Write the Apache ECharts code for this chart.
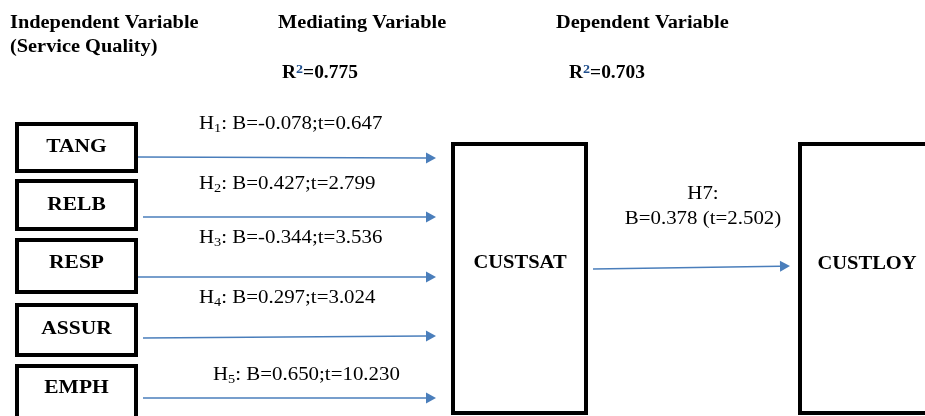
<!DOCTYPE html>
<html>
<head>
<meta charset="utf-8">
<script src="https://cdn.jsdelivr.net/npm/echarts@6/dist/echarts.min.js"></script>
<style>
html,body{margin:0;padding:0;background:#fff;}
#chart{width:925px;height:416px;}
</style>
</head>
<body>
<div id="chart"></div>
<script>
// ---------- DATA ----------
const independentVars = ['TANG', 'RELB', 'RESP', 'ASSUR', 'EMPH'];
const betas = [-0.078, 0.427, -0.344, 0.297, 0.650];
const tValues = [0.647, 2.799, 3.536, 3.024, 10.230];
const mediatorName = 'CUSTSAT';
const dependentName = 'CUSTLOY';
const h7Beta = 0.378;
const h7T = 2.502;
const rSquared = [0.775, 0.703];
const headerTitles = ['Independent Variable', '(Service Quality)', 'Mediating Variable', 'Dependent Variable'];

// ---------- LAYOUT (pixel-space axis units) ----------
const L = {
  leftBoxX: [15, 138],
  leftBoxY: [[122, 173], [179, 231], [238, 294], [303, 357], [364, 420]],
  leftLabelY: [147, 205, 263, 329, 388],
  arrowStartX: [138, 143, 138, 143, 143],
  arrowStartY: [157, 217, 277, 338, 398],
  arrowEndY: [158, 217, 277, 336, 398],
  arrowTipX: 436,
  hypLabel: [[199, 124], [199, 184], [199, 238], [199, 298], [213, 375]],
  midBox: [451, 142, 588, 415],
  depBox: [798, 142, 940, 415],
  midLabel: [520, 263],
  depLabel: [867, 264],
  h7Arrow: [[593, 269], [790, 266]],
  h7Label: [703, 194, 219],
  headers: [[10, 23.5], [10, 47], [278, 23.5], [556, 23.5]],
  r2: [[282, 73], [569, 73]]
};
const SERIF = '"Liberation Serif", "Times New Roman", serif';
const ARROW_COLOR = '#4a7ebb';
const BOX_LW = 4;
const STRETCH = 1.12;

function fmt(v) { return v.toFixed(3); }

function boxShape(api, x0, y0, x1, y1) {
  const p0 = api.coord([x0, y0]);
  const p1 = api.coord([x1, y1]);
  const h = BOX_LW / 2;
  return {
    type: 'rect',
    shape: { x: p0[0] + h, y: p0[1] + h, width: p1[0] - p0[0] - BOX_LW, height: p1[1] - p0[1] - BOX_LW },
    style: { fill: '#fff', stroke: '#000', lineWidth: BOX_LW }
  };
}

function arrowShape(api, s, e) {
  const p0 = api.coord(s);
  const p1 = api.coord(e);
  const dx = p1[0] - p0[0], dy = p1[1] - p0[1];
  const len = Math.sqrt(dx * dx + dy * dy);
  const ux = dx / len, uy = dy / len;
  const hl = 10, hw = 5.5;
  const bx = p1[0] - ux * hl, by = p1[1] - uy * hl;
  return {
    type: 'group',
    children: [
      { type: 'line', shape: { x1: p0[0], y1: p0[1], x2: bx, y2: by },
        style: { stroke: ARROW_COLOR, lineWidth: 1.5 } },
      { type: 'polygon', shape: { points: [[p1[0], p1[1]], [bx - uy * hw, by + ux * hw], [bx + uy * hw, by - ux * hw]] },
        style: { fill: ARROW_COLOR } }
    ]
  };
}

function textEl(api, x, y, text, opts, sx) {
  const p = api.coord([x, y]);
  return {
    type: 'text',
    x: p[0], y: p[1],
    scaleX: sx || STRETCH, scaleY: 1,
    style: Object.assign({
      x: 0, y: 0, text: text,
      fontFamily: SERIF, fontSize: 19, fill: '#000',
      align: 'left', verticalAlign: 'middle'
    }, opts || {})
  };
}

const subRich = {
  n: { fontFamily: SERIF, fontSize: 19, fill: '#000', lineHeight: 24, verticalAlign: 'middle' },
  s: { fontFamily: SERIF, fontSize: 13, fill: '#000', lineHeight: 24, verticalAlign: 'bottom', padding: [0, 0, 1, 0] }
};
const supRich = {
  n: { fontFamily: SERIF, fontSize: 18, fontWeight: 'bold', fill: '#000', lineHeight: 24, verticalAlign: 'middle' },
  p: { fontFamily: SERIF, fontSize: 13, fontWeight: 'bold', fill: '#1f4e8c', lineHeight: 24, verticalAlign: 'top', padding: [2, 0, 0, 0] }
};

const chart = echarts.init(document.getElementById('chart'), null, { renderer: 'canvas' });

const option = {
  animation: false,
  backgroundColor: '#fff',
  grid: { left: 0, right: 0, top: 0, bottom: 0 },
  xAxis: { type: 'value', min: 0, max: 925, show: false },
  yAxis: { type: 'value', min: 0, max: 416, inverse: true, show: false },
  series: [
    // Independent variable boxes
    {
      type: 'custom',
      data: independentVars.map((n, i) => [i]),
      renderItem: function (params, api) {
        const i = api.value(0);
        const yy = L.leftBoxY[i];
        return {
          type: 'group',
          children: [
            boxShape(api, L.leftBoxX[0], yy[0], L.leftBoxX[1], yy[1]),
            textEl(api, (L.leftBoxX[0] + L.leftBoxX[1]) / 2, L.leftLabelY[i], independentVars[i],
              { fontWeight: 'bold', align: 'center' }, 1.13)
          ]
        };
      }
    },
    // Mediator & dependent boxes
    {
      type: 'custom',
      data: [[0], [1]],
      renderItem: function (params, api) {
        const i = api.value(0);
        const b = i === 0 ? L.midBox : L.depBox;
        const lp = i === 0 ? L.midLabel : L.depLabel;
        return {
          type: 'group',
          children: [
            boxShape(api, b[0], b[1], b[2], b[3]),
            textEl(api, lp[0], lp[1], i === 0 ? mediatorName : dependentName, { fontWeight: 'bold', align: 'center' }, 1.08)
          ]
        };
      }
    },
    // Arrows IV -> mediator with hypothesis labels
    {
      type: 'custom',
      data: betas.map((b, i) => [i, b, tValues[i]]),
      renderItem: function (params, api) {
        const i = api.value(0);
        const lp = L.hypLabel[i];
        const txt = '{n|H}{s|' + (i + 1) + '}{n|: B=' + fmt(betas[i]) + ';t=' + fmt(tValues[i]) + '}';
        return {
          type: 'group',
          children: [
            arrowShape(api, [L.arrowStartX[i], L.arrowStartY[i]], [L.arrowTipX, L.arrowEndY[i]]),
            textEl(api, lp[0], lp[1], txt, { rich: subRich }, 1.1)
          ]
        };
      }
    },
    // H7 arrow
    {
      type: 'custom',
      data: [[h7Beta, h7T]],
      renderItem: function (params, api) {
        return {
          type: 'group',
          children: [
            arrowShape(api, L.h7Arrow[0], L.h7Arrow[1]),
            textEl(api, L.h7Label[0], L.h7Label[1], 'H7:', { align: 'center' }, 1.1),
            textEl(api, L.h7Label[0], L.h7Label[2], 'B=' + fmt(h7Beta) + ' (t=' + fmt(h7T) + ')', { align: 'center' }, 1.1)
          ]
        };
      }
    },
    // Headers and R²
    {
      type: 'custom',
      data: headerTitles.map((t, i) => [i]),
      renderItem: function (params, api) {
        const i = api.value(0);
        const hp = L.headers[i];
        return textEl(api, hp[0], hp[1], headerTitles[i], { fontWeight: 'bold', fontSize: 18 }, 1.13);
      }
    },
    {
      type: 'custom',
      data: rSquared.map((r, i) => [i, r]),
      renderItem: function (params, api) {
        const i = api.value(0);
        const rp = L.r2[i];
        return textEl(api, rp[0], rp[1], '{n|R}{p|2}{n|=' + fmt(rSquared[i]) + '}', { rich: supRich }, 1.08);
      }
    }
  ]
};
chart.setOption(option);
</script>
</body>
</html>
